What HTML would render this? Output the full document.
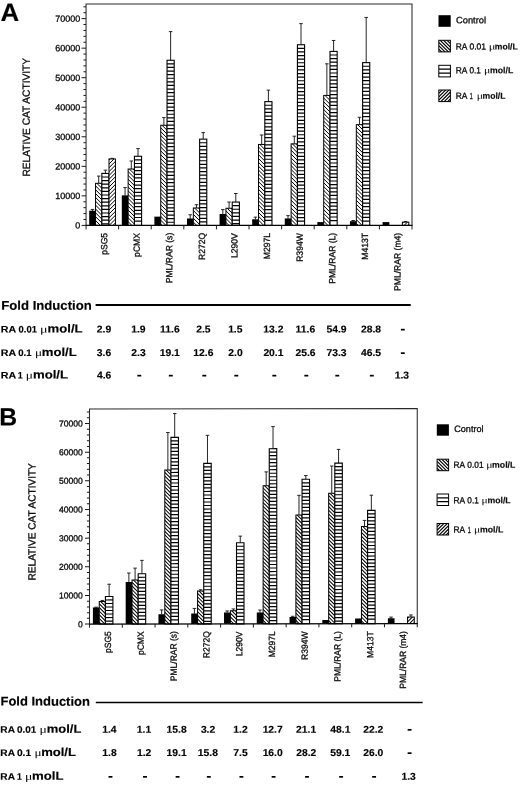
<!DOCTYPE html>
<html><head><meta charset="utf-8"><title>Figure</title>
<style>
html,body{margin:0;padding:0;background:#fff;}
body{width:520px;height:785px;overflow:hidden;font-family:"Liberation Sans",sans-serif;}
svg{display:block;will-change:transform;}
</style></head><body>
<svg width="520" height="785" viewBox="0 0 520 785">
<rect width="520" height="785" fill="#fff"/>
<g id="panelA">
<g transform="translate(86.05 0) skewY(0.000) translate(-86.05 0)">
<path d="M92.45 210.93V209.45M90.70 209.45H94.20" stroke="#1a1a1a" stroke-width="0.95" fill="none"/>
<rect x="89.20" y="210.73" width="6.80" height="14.67" fill="#000"/>
<path d="M98.70 183.31V176.07M96.95 176.07H100.45" stroke="#1a1a1a" stroke-width="0.95" fill="none"/>
<clipPath id="cA_0_1"><rect x="95.55" y="183.31" width="6.30" height="42.09"/></clipPath>
<rect x="95.55" y="183.31" width="6.30" height="42.09" fill="#fff"/>
<path d="M94.55 177.16L102.85 185.46M94.55 181.01L102.85 189.31M94.55 184.86L102.85 193.16M94.55 188.71L102.85 197.01M94.55 192.56L102.85 200.86M94.55 196.41L102.85 204.71M94.55 200.26L102.85 208.56M94.55 204.11L102.85 212.41M94.55 207.96L102.85 216.26M94.55 211.81L102.85 220.11M94.55 215.66L102.85 223.96M94.55 219.51L102.85 227.81M94.55 223.36L102.85 231.66" stroke="#000" stroke-width="1.0" fill="none" clip-path="url(#cA_0_1)"/>
<rect x="95.55" y="183.31" width="6.30" height="42.09" fill="none" stroke="#000" stroke-width="1"/>
<path d="M105.42 173.41V170.16M103.67 170.16H107.17" stroke="#1a1a1a" stroke-width="0.95" fill="none"/>
<rect x="101.85" y="173.41" width="7.15" height="51.99" fill="#fff" stroke="#000" stroke-width="1.1"/>
<path d="M101.85 177.01H109.00M101.85 180.61H109.00M101.85 184.21H109.00M101.85 187.81H109.00M101.85 191.41H109.00M101.85 195.01H109.00M101.85 198.61H109.00M101.85 202.21H109.00M101.85 205.81H109.00M101.85 209.41H109.00M101.85 213.01H109.00M101.85 216.61H109.00M101.85 220.21H109.00M101.85 223.81H109.00" stroke="#000" stroke-width="1.2" fill="none"/>
<path d="M112.22 158.94V158.34M110.47 158.34H113.97" stroke="#1a1a1a" stroke-width="0.95" fill="none"/>
<clipPath id="cA_0_3"><rect x="109.00" y="158.94" width="6.45" height="66.47"/></clipPath>
<rect x="109.00" y="158.94" width="6.45" height="66.47" fill="#fff"/>
<path d="M108.00 161.09L116.45 152.64M108.00 164.94L116.45 156.49M108.00 168.79L116.45 160.34M108.00 172.64L116.45 164.19M108.00 176.49L116.45 168.04M108.00 180.34L116.45 171.89M108.00 184.19L116.45 175.74M108.00 188.04L116.45 179.59M108.00 191.89L116.45 183.44M108.00 195.74L116.45 187.29M108.00 199.59L116.45 191.14M108.00 203.44L116.45 194.99M108.00 207.29L116.45 198.84M108.00 211.14L116.45 202.69M108.00 214.99L116.45 206.54M108.00 218.84L116.45 210.39M108.00 222.69L116.45 214.24M108.00 226.54L116.45 218.09M108.00 230.39L116.45 221.94" stroke="#000" stroke-width="1.0" fill="none" clip-path="url(#cA_0_3)"/>
<rect x="109.00" y="158.94" width="6.45" height="66.47" fill="none" stroke="#000" stroke-width="1"/>
<path d="M125.05 195.56V187.59M123.30 187.59H126.80" stroke="#1a1a1a" stroke-width="0.95" fill="none"/>
<rect x="121.80" y="195.36" width="6.80" height="30.04" fill="#000"/>
<path d="M131.29 169.04V161.00M129.54 161.00H133.04" stroke="#1a1a1a" stroke-width="0.95" fill="none"/>
<clipPath id="cA_1_1"><rect x="128.14" y="169.04" width="6.30" height="56.36"/></clipPath>
<rect x="128.14" y="169.04" width="6.30" height="56.36" fill="#fff"/>
<path d="M127.14 162.89L135.44 171.19M127.14 166.74L135.44 175.04M127.14 170.59L135.44 178.89M127.14 174.44L135.44 182.74M127.14 178.29L135.44 186.59M127.14 182.14L135.44 190.44M127.14 185.99L135.44 194.29M127.14 189.84L135.44 198.14M127.14 193.69L135.44 201.99M127.14 197.54L135.44 205.84M127.14 201.39L135.44 209.69M127.14 205.24L135.44 213.54M127.14 209.09L135.44 217.39M127.14 212.94L135.44 221.24M127.14 216.79L135.44 225.09M127.14 220.64L135.44 228.94" stroke="#000" stroke-width="1.0" fill="none" clip-path="url(#cA_1_1)"/>
<rect x="128.14" y="169.04" width="6.30" height="56.36" fill="none" stroke="#000" stroke-width="1"/>
<path d="M138.02 156.28V148.60M136.27 148.60H139.77" stroke="#1a1a1a" stroke-width="0.95" fill="none"/>
<rect x="134.44" y="156.28" width="7.15" height="69.12" fill="#fff" stroke="#000" stroke-width="1.1"/>
<path d="M134.44 159.88H141.59M134.44 163.48H141.59M134.44 167.08H141.59M134.44 170.68H141.59M134.44 174.28H141.59M134.44 177.88H141.59M134.44 181.48H141.59M134.44 185.08H141.59M134.44 188.68H141.59M134.44 192.28H141.59M134.44 195.88H141.59M134.44 199.48H141.59M134.44 203.08H141.59M134.44 206.68H141.59M134.44 210.28H141.59M134.44 213.88H141.59M134.44 217.48H141.59M134.44 221.08H141.59" stroke="#000" stroke-width="1.2" fill="none"/>
<rect x="154.39" y="216.63" width="6.80" height="8.77" fill="#000"/>
<path d="M163.89 125.26V117.58M162.14 117.58H165.64" stroke="#1a1a1a" stroke-width="0.95" fill="none"/>
<clipPath id="cA_2_1"><rect x="160.74" y="125.26" width="6.30" height="100.14"/></clipPath>
<rect x="160.74" y="125.26" width="6.30" height="100.14" fill="#fff"/>
<path d="M159.74 119.11L168.04 127.41M159.74 122.96L168.04 131.26M159.74 126.81L168.04 135.11M159.74 130.66L168.04 138.96M159.74 134.51L168.04 142.81M159.74 138.36L168.04 146.66M159.74 142.21L168.04 150.51M159.74 146.06L168.04 154.36M159.74 149.91L168.04 158.21M159.74 153.76L168.04 162.06M159.74 157.61L168.04 165.91M159.74 161.46L168.04 169.76M159.74 165.31L168.04 173.61M159.74 169.16L168.04 177.46M159.74 173.01L168.04 181.31M159.74 176.86L168.04 185.16M159.74 180.71L168.04 189.01M159.74 184.56L168.04 192.86M159.74 188.41L168.04 196.71M159.74 192.26L168.04 200.56M159.74 196.11L168.04 204.41M159.74 199.96L168.04 208.26M159.74 203.81L168.04 212.11M159.74 207.66L168.04 215.96M159.74 211.51L168.04 219.81M159.74 215.36L168.04 223.66M159.74 219.21L168.04 227.51M159.74 223.06L168.04 231.36" stroke="#000" stroke-width="1.0" fill="none" clip-path="url(#cA_2_1)"/>
<rect x="160.74" y="125.26" width="6.30" height="100.14" fill="none" stroke="#000" stroke-width="1"/>
<path d="M170.62 60.27V31.62M168.87 31.62H172.37" stroke="#1a1a1a" stroke-width="0.95" fill="none"/>
<rect x="167.04" y="60.27" width="7.15" height="165.13" fill="#fff" stroke="#000" stroke-width="1.1"/>
<path d="M167.04 63.87H174.19M167.04 67.47H174.19M167.04 71.07H174.19M167.04 74.67H174.19M167.04 78.27H174.19M167.04 81.87H174.19M167.04 85.47H174.19M167.04 89.07H174.19M167.04 92.67H174.19M167.04 96.27H174.19M167.04 99.87H174.19M167.04 103.47H174.19M167.04 107.07H174.19M167.04 110.67H174.19M167.04 114.27H174.19M167.04 117.87H174.19M167.04 121.47H174.19M167.04 125.07H174.19M167.04 128.67H174.19M167.04 132.27H174.19M167.04 135.87H174.19M167.04 139.47H174.19M167.04 143.07H174.19M167.04 146.67H174.19M167.04 150.27H174.19M167.04 153.87H174.19M167.04 157.47H174.19M167.04 161.07H174.19M167.04 164.67H174.19M167.04 168.27H174.19M167.04 171.87H174.19M167.04 175.47H174.19M167.04 179.07H174.19M167.04 182.67H174.19M167.04 186.27H174.19M167.04 189.87H174.19M167.04 193.47H174.19M167.04 197.07H174.19M167.04 200.67H174.19M167.04 204.27H174.19M167.04 207.87H174.19M167.04 211.47H174.19M167.04 215.07H174.19M167.04 218.67H174.19M167.04 222.27H174.19" stroke="#000" stroke-width="1.2" fill="none"/>
<path d="M190.23 218.69V214.77M188.48 214.77H191.98" stroke="#1a1a1a" stroke-width="0.95" fill="none"/>
<rect x="186.98" y="218.49" width="6.80" height="6.91" fill="#000"/>
<path d="M196.48 207.97V204.72M194.73 204.72H198.23" stroke="#1a1a1a" stroke-width="0.95" fill="none"/>
<clipPath id="cA_3_1"><rect x="193.33" y="207.97" width="6.30" height="17.43"/></clipPath>
<rect x="193.33" y="207.97" width="6.30" height="17.43" fill="#fff"/>
<path d="M192.33 201.83L200.63 210.13M192.33 205.68L200.63 213.98M192.33 209.53L200.63 217.83M192.33 213.38L200.63 221.68M192.33 217.23L200.63 225.53M192.33 221.08L200.63 229.38" stroke="#000" stroke-width="1.0" fill="none" clip-path="url(#cA_3_1)"/>
<rect x="193.33" y="207.97" width="6.30" height="17.43" fill="none" stroke="#000" stroke-width="1"/>
<path d="M203.21 139.14V132.64M201.46 132.64H204.96" stroke="#1a1a1a" stroke-width="0.95" fill="none"/>
<rect x="199.63" y="139.14" width="7.15" height="86.26" fill="#fff" stroke="#000" stroke-width="1.1"/>
<path d="M199.63 142.74H206.78M199.63 146.34H206.78M199.63 149.94H206.78M199.63 153.54H206.78M199.63 157.14H206.78M199.63 160.74H206.78M199.63 164.34H206.78M199.63 167.94H206.78M199.63 171.54H206.78M199.63 175.14H206.78M199.63 178.74H206.78M199.63 182.34H206.78M199.63 185.94H206.78M199.63 189.54H206.78M199.63 193.14H206.78M199.63 196.74H206.78M199.63 200.34H206.78M199.63 203.94H206.78M199.63 207.54H206.78M199.63 211.14H206.78M199.63 214.74H206.78M199.63 218.34H206.78M199.63 221.94H206.78" stroke="#000" stroke-width="1.2" fill="none"/>
<path d="M222.83 214.17V209.60M221.08 209.60H224.58" stroke="#1a1a1a" stroke-width="0.95" fill="none"/>
<rect x="219.58" y="213.97" width="6.80" height="11.43" fill="#000"/>
<path d="M229.08 208.27V202.06M227.33 202.06H230.83" stroke="#1a1a1a" stroke-width="0.95" fill="none"/>
<clipPath id="cA_4_1"><rect x="225.93" y="208.27" width="6.30" height="17.13"/></clipPath>
<rect x="225.93" y="208.27" width="6.30" height="17.13" fill="#fff"/>
<path d="M224.93 202.12L233.23 210.42M224.93 205.97L233.23 214.27M224.93 209.82L233.23 218.12M224.93 213.67L233.23 221.97M224.93 217.52L233.23 225.82M224.93 221.37L233.23 229.67" stroke="#000" stroke-width="1.0" fill="none" clip-path="url(#cA_4_1)"/>
<rect x="225.93" y="208.27" width="6.30" height="17.13" fill="none" stroke="#000" stroke-width="1"/>
<path d="M235.81 202.06V193.50M234.06 193.50H237.56" stroke="#1a1a1a" stroke-width="0.95" fill="none"/>
<rect x="232.23" y="202.06" width="7.15" height="23.34" fill="#fff" stroke="#000" stroke-width="1.1"/>
<path d="M232.23 205.66H239.38M232.23 209.26H239.38M232.23 212.86H239.38M232.23 216.46H239.38M232.23 220.06H239.38M232.23 223.66H239.38" stroke="#000" stroke-width="1.2" fill="none"/>
<path d="M255.42 219.49V217.13M253.67 217.13H257.17" stroke="#1a1a1a" stroke-width="0.95" fill="none"/>
<rect x="252.17" y="219.29" width="6.80" height="6.11" fill="#000"/>
<path d="M261.67 144.46V135.01M259.92 135.01H263.42" stroke="#1a1a1a" stroke-width="0.95" fill="none"/>
<clipPath id="cA_5_1"><rect x="258.52" y="144.46" width="6.30" height="80.94"/></clipPath>
<rect x="258.52" y="144.46" width="6.30" height="80.94" fill="#fff"/>
<path d="M257.52 138.32L265.82 146.62M257.52 142.17L265.82 150.47M257.52 146.02L265.82 154.32M257.52 149.87L265.82 158.17M257.52 153.72L265.82 162.02M257.52 157.57L265.82 165.87M257.52 161.42L265.82 169.72M257.52 165.27L265.82 173.57M257.52 169.12L265.82 177.42M257.52 172.97L265.82 181.27M257.52 176.82L265.82 185.12M257.52 180.67L265.82 188.97M257.52 184.52L265.82 192.82M257.52 188.37L265.82 196.67M257.52 192.22L265.82 200.52M257.52 196.07L265.82 204.37M257.52 199.92L265.82 208.22M257.52 203.77L265.82 212.07M257.52 207.62L265.82 215.92M257.52 211.47L265.82 219.77M257.52 215.32L265.82 223.62M257.52 219.17L265.82 227.47M257.52 223.02L265.82 231.32" stroke="#000" stroke-width="1.0" fill="none" clip-path="url(#cA_5_1)"/>
<rect x="258.52" y="144.46" width="6.30" height="80.94" fill="none" stroke="#000" stroke-width="1"/>
<path d="M268.40 101.63V90.11M266.65 90.11H270.15" stroke="#1a1a1a" stroke-width="0.95" fill="none"/>
<rect x="264.82" y="101.63" width="7.15" height="123.77" fill="#fff" stroke="#000" stroke-width="1.1"/>
<path d="M264.82 105.23H271.97M264.82 108.83H271.97M264.82 112.43H271.97M264.82 116.03H271.97M264.82 119.63H271.97M264.82 123.23H271.97M264.82 126.83H271.97M264.82 130.43H271.97M264.82 134.03H271.97M264.82 137.63H271.97M264.82 141.23H271.97M264.82 144.83H271.97M264.82 148.43H271.97M264.82 152.03H271.97M264.82 155.63H271.97M264.82 159.23H271.97M264.82 162.83H271.97M264.82 166.43H271.97M264.82 170.03H271.97M264.82 173.63H271.97M264.82 177.23H271.97M264.82 180.83H271.97M264.82 184.43H271.97M264.82 188.03H271.97M264.82 191.63H271.97M264.82 195.23H271.97M264.82 198.83H271.97M264.82 202.43H271.97M264.82 206.03H271.97M264.82 209.63H271.97M264.82 213.23H271.97M264.82 216.83H271.97M264.82 220.43H271.97" stroke="#000" stroke-width="1.2" fill="none"/>
<path d="M288.02 218.61V215.65M286.27 215.65H289.77" stroke="#1a1a1a" stroke-width="0.95" fill="none"/>
<rect x="284.77" y="218.41" width="6.80" height="6.99" fill="#000"/>
<path d="M294.27 143.87V136.19M292.52 136.19H296.02" stroke="#1a1a1a" stroke-width="0.95" fill="none"/>
<clipPath id="cA_6_1"><rect x="291.12" y="143.87" width="6.30" height="81.53"/></clipPath>
<rect x="291.12" y="143.87" width="6.30" height="81.53" fill="#fff"/>
<path d="M290.12 137.72L298.42 146.02M290.12 141.57L298.42 149.87M290.12 145.42L298.42 153.72M290.12 149.27L298.42 157.57M290.12 153.12L298.42 161.42M290.12 156.97L298.42 165.27M290.12 160.82L298.42 169.12M290.12 164.67L298.42 172.97M290.12 168.52L298.42 176.82M290.12 172.37L298.42 180.67M290.12 176.22L298.42 184.52M290.12 180.07L298.42 188.37M290.12 183.92L298.42 192.22M290.12 187.77L298.42 196.07M290.12 191.62L298.42 199.92M290.12 195.47L298.42 203.77M290.12 199.32L298.42 207.62M290.12 203.17L298.42 211.47M290.12 207.02L298.42 215.32M290.12 210.87L298.42 219.17M290.12 214.72L298.42 223.02M290.12 218.57L298.42 226.87M290.12 222.42L298.42 230.72" stroke="#000" stroke-width="1.0" fill="none" clip-path="url(#cA_6_1)"/>
<rect x="291.12" y="143.87" width="6.30" height="81.53" fill="none" stroke="#000" stroke-width="1"/>
<path d="M301.00 44.76V23.64M299.25 23.64H302.75" stroke="#1a1a1a" stroke-width="0.95" fill="none"/>
<rect x="297.42" y="44.76" width="7.15" height="180.64" fill="#fff" stroke="#000" stroke-width="1.1"/>
<path d="M297.42 48.36H304.57M297.42 51.96H304.57M297.42 55.56H304.57M297.42 59.16H304.57M297.42 62.76H304.57M297.42 66.36H304.57M297.42 69.96H304.57M297.42 73.56H304.57M297.42 77.16H304.57M297.42 80.76H304.57M297.42 84.36H304.57M297.42 87.96H304.57M297.42 91.56H304.57M297.42 95.16H304.57M297.42 98.76H304.57M297.42 102.36H304.57M297.42 105.96H304.57M297.42 109.56H304.57M297.42 113.16H304.57M297.42 116.76H304.57M297.42 120.36H304.57M297.42 123.96H304.57M297.42 127.56H304.57M297.42 131.16H304.57M297.42 134.76H304.57M297.42 138.36H304.57M297.42 141.96H304.57M297.42 145.56H304.57M297.42 149.16H304.57M297.42 152.76H304.57M297.42 156.36H304.57M297.42 159.96H304.57M297.42 163.56H304.57M297.42 167.16H304.57M297.42 170.76H304.57M297.42 174.36H304.57M297.42 177.96H304.57M297.42 181.56H304.57M297.42 185.16H304.57M297.42 188.76H304.57M297.42 192.36H304.57M297.42 195.96H304.57M297.42 199.56H304.57M297.42 203.16H304.57M297.42 206.76H304.57M297.42 210.36H304.57M297.42 213.96H304.57M297.42 217.56H304.57M297.42 221.16H304.57" stroke="#000" stroke-width="1.2" fill="none"/>
<rect x="317.36" y="222.10" width="6.80" height="3.30" fill="#000"/>
<path d="M326.86 95.42V63.82M325.11 63.82H328.61" stroke="#1a1a1a" stroke-width="0.95" fill="none"/>
<clipPath id="cA_7_1"><rect x="323.71" y="95.42" width="6.30" height="129.98"/></clipPath>
<rect x="323.71" y="95.42" width="6.30" height="129.98" fill="#fff"/>
<path d="M322.71 89.28L331.01 97.58M322.71 93.13L331.01 101.43M322.71 96.98L331.01 105.28M322.71 100.83L331.01 109.13M322.71 104.68L331.01 112.98M322.71 108.53L331.01 116.83M322.71 112.38L331.01 120.68M322.71 116.23L331.01 124.53M322.71 120.08L331.01 128.38M322.71 123.93L331.01 132.23M322.71 127.78L331.01 136.08M322.71 131.63L331.01 139.93M322.71 135.48L331.01 143.78M322.71 139.33L331.01 147.63M322.71 143.18L331.01 151.48M322.71 147.03L331.01 155.33M322.71 150.88L331.01 159.18M322.71 154.73L331.01 163.03M322.71 158.58L331.01 166.88M322.71 162.43L331.01 170.73M322.71 166.28L331.01 174.58M322.71 170.13L331.01 178.43M322.71 173.98L331.01 182.28M322.71 177.83L331.01 186.13M322.71 181.68L331.01 189.98M322.71 185.53L331.01 193.83M322.71 189.38L331.01 197.68M322.71 193.23L331.01 201.53M322.71 197.08L331.01 205.38M322.71 200.93L331.01 209.23M322.71 204.78L331.01 213.08M322.71 208.63L331.01 216.93M322.71 212.48L331.01 220.78M322.71 216.33L331.01 224.63M322.71 220.18L331.01 228.48M322.71 224.03L331.01 232.33" stroke="#000" stroke-width="1.0" fill="none" clip-path="url(#cA_7_1)"/>
<rect x="323.71" y="95.42" width="6.30" height="129.98" fill="none" stroke="#000" stroke-width="1"/>
<path d="M333.59 51.41V40.48M331.84 40.48H335.34" stroke="#1a1a1a" stroke-width="0.95" fill="none"/>
<rect x="330.01" y="51.41" width="7.15" height="173.99" fill="#fff" stroke="#000" stroke-width="1.1"/>
<path d="M330.01 55.01H337.16M330.01 58.61H337.16M330.01 62.21H337.16M330.01 65.81H337.16M330.01 69.41H337.16M330.01 73.01H337.16M330.01 76.61H337.16M330.01 80.21H337.16M330.01 83.81H337.16M330.01 87.41H337.16M330.01 91.01H337.16M330.01 94.61H337.16M330.01 98.21H337.16M330.01 101.81H337.16M330.01 105.41H337.16M330.01 109.01H337.16M330.01 112.61H337.16M330.01 116.21H337.16M330.01 119.81H337.16M330.01 123.41H337.16M330.01 127.01H337.16M330.01 130.61H337.16M330.01 134.21H337.16M330.01 137.81H337.16M330.01 141.41H337.16M330.01 145.01H337.16M330.01 148.61H337.16M330.01 152.21H337.16M330.01 155.81H337.16M330.01 159.41H337.16M330.01 163.01H337.16M330.01 166.61H337.16M330.01 170.21H337.16M330.01 173.81H337.16M330.01 177.41H337.16M330.01 181.01H337.16M330.01 184.61H337.16M330.01 188.21H337.16M330.01 191.81H337.16M330.01 195.41H337.16M330.01 199.01H337.16M330.01 202.61H337.16M330.01 206.21H337.16M330.01 209.81H337.16M330.01 213.41H337.16M330.01 217.01H337.16M330.01 220.61H337.16" stroke="#000" stroke-width="1.2" fill="none"/>
<path d="M353.21 221.41V220.53M351.46 220.53H354.96" stroke="#1a1a1a" stroke-width="0.95" fill="none"/>
<rect x="349.96" y="221.21" width="6.80" height="4.19" fill="#000"/>
<path d="M359.46 124.67V117.28M357.71 117.28H361.21" stroke="#1a1a1a" stroke-width="0.95" fill="none"/>
<clipPath id="cA_8_1"><rect x="356.31" y="124.67" width="6.30" height="100.73"/></clipPath>
<rect x="356.31" y="124.67" width="6.30" height="100.73" fill="#fff"/>
<path d="M355.31 118.52L363.61 126.82M355.31 122.37L363.61 130.67M355.31 126.22L363.61 134.52M355.31 130.07L363.61 138.37M355.31 133.92L363.61 142.22M355.31 137.77L363.61 146.07M355.31 141.62L363.61 149.92M355.31 145.47L363.61 153.77M355.31 149.32L363.61 157.62M355.31 153.17L363.61 161.47M355.31 157.02L363.61 165.32M355.31 160.87L363.61 169.17M355.31 164.72L363.61 173.02M355.31 168.57L363.61 176.87M355.31 172.42L363.61 180.72M355.31 176.27L363.61 184.57M355.31 180.12L363.61 188.42M355.31 183.97L363.61 192.27M355.31 187.82L363.61 196.12M355.31 191.67L363.61 199.97M355.31 195.52L363.61 203.82M355.31 199.37L363.61 207.67M355.31 203.22L363.61 211.52M355.31 207.07L363.61 215.37M355.31 210.92L363.61 219.22M355.31 214.77L363.61 223.07M355.31 218.62L363.61 226.92M355.31 222.47L363.61 230.77" stroke="#000" stroke-width="1.0" fill="none" clip-path="url(#cA_8_1)"/>
<rect x="356.31" y="124.67" width="6.30" height="100.73" fill="none" stroke="#000" stroke-width="1"/>
<path d="M366.19 62.63V17.44M364.44 17.44H367.94" stroke="#1a1a1a" stroke-width="0.95" fill="none"/>
<rect x="362.61" y="62.63" width="7.15" height="162.77" fill="#fff" stroke="#000" stroke-width="1.1"/>
<path d="M362.61 66.23H369.76M362.61 69.83H369.76M362.61 73.43H369.76M362.61 77.03H369.76M362.61 80.63H369.76M362.61 84.23H369.76M362.61 87.83H369.76M362.61 91.43H369.76M362.61 95.03H369.76M362.61 98.63H369.76M362.61 102.23H369.76M362.61 105.83H369.76M362.61 109.43H369.76M362.61 113.03H369.76M362.61 116.63H369.76M362.61 120.23H369.76M362.61 123.83H369.76M362.61 127.43H369.76M362.61 131.03H369.76M362.61 134.63H369.76M362.61 138.23H369.76M362.61 141.83H369.76M362.61 145.43H369.76M362.61 149.03H369.76M362.61 152.63H369.76M362.61 156.23H369.76M362.61 159.83H369.76M362.61 163.43H369.76M362.61 167.03H369.76M362.61 170.63H369.76M362.61 174.23H369.76M362.61 177.83H369.76M362.61 181.43H369.76M362.61 185.03H369.76M362.61 188.63H369.76M362.61 192.23H369.76M362.61 195.83H369.76M362.61 199.43H369.76M362.61 203.03H369.76M362.61 206.63H369.76M362.61 210.23H369.76M362.61 213.83H369.76M362.61 217.43H369.76M362.61 221.03H369.76" stroke="#000" stroke-width="1.2" fill="none"/>
<rect x="382.56" y="222.10" width="6.80" height="3.30" fill="#000"/>
<path d="M405.58 222.15V221.56M403.83 221.56H407.33" stroke="#1a1a1a" stroke-width="0.95" fill="none"/>
<clipPath id="cA_9_3"><rect x="402.36" y="222.15" width="6.45" height="3.25"/></clipPath>
<rect x="402.36" y="222.15" width="6.45" height="3.25" fill="#fff"/>
<path d="M401.36 224.31L409.81 215.86M401.36 228.16L409.81 219.71M401.36 232.01L409.81 223.56" stroke="#000" stroke-width="1.0" fill="none" clip-path="url(#cA_9_3)"/>
<rect x="402.36" y="222.15" width="6.45" height="3.25" fill="none" stroke="#000" stroke-width="1"/>
<path d="M86.05 229.40V3.90H412.00V229.40" stroke="#2a2a2a" stroke-width="1.05" fill="none"/>
<path d="M85.55 225.40H412.50" stroke="#000" stroke-width="1.3" fill="none"/>
<path d="M118.64 225.40v4.00M151.24 225.40v4.00M183.83 225.40v4.00M216.43 225.40v4.00M249.02 225.40v4.00M281.62 225.40v4.00M314.21 225.40v4.00M346.81 225.40v4.00M379.41 225.40v4.00" stroke="#1a1a1a" stroke-width="1" fill="none"/>
<path d="M86.05 225.40h-4.50M86.05 219.49h-2.61M86.05 213.58h-2.61M86.05 207.68h-2.61M86.05 201.77h-2.61M86.05 195.86h-4.50M86.05 189.95h-2.61M86.05 184.04h-2.61M86.05 178.14h-2.61M86.05 172.23h-2.61M86.05 166.32h-4.50M86.05 160.41h-2.61M86.05 154.50h-2.61M86.05 148.60h-2.61M86.05 142.69h-2.61M86.05 136.78h-4.50M86.05 130.87h-2.61M86.05 124.96h-2.61M86.05 119.06h-2.61M86.05 113.15h-2.61M86.05 107.24h-4.50M86.05 101.33h-2.61M86.05 95.42h-2.61M86.05 89.52h-2.61M86.05 83.61h-2.61M86.05 77.70h-4.50M86.05 71.79h-2.61M86.05 65.88h-2.61M86.05 59.98h-2.61M86.05 54.07h-2.61M86.05 48.16h-4.50M86.05 42.25h-2.61M86.05 36.34h-2.61M86.05 30.44h-2.61M86.05 24.53h-2.61M86.05 18.62h-4.50M86.05 12.71h-2.61M86.05 6.80h-2.61" stroke="#1a1a1a" stroke-width="1" fill="none"/>
</g>
<text transform="translate(75.32 228.59) rotate(0.03) scale(1.0000 1)" font-family="Liberation Sans, sans-serif" font-weight="normal" font-size="9.00" fill="#0a0a0a" stroke="#0a0a0a" stroke-width="0.30">0</text>
<text transform="translate(55.30 199.06) rotate(0.03) scale(1.0000 1)" font-family="Liberation Sans, sans-serif" font-weight="normal" font-size="9.00" fill="#0a0a0a" stroke="#0a0a0a" stroke-width="0.30">10000</text>
<text transform="translate(55.29 169.51) rotate(0.03) scale(1.0000 1)" font-family="Liberation Sans, sans-serif" font-weight="normal" font-size="9.00" fill="#0a0a0a" stroke="#0a0a0a" stroke-width="0.30">20000</text>
<text transform="translate(55.30 139.97) rotate(0.03) scale(1.0000 1)" font-family="Liberation Sans, sans-serif" font-weight="normal" font-size="9.00" fill="#0a0a0a" stroke="#0a0a0a" stroke-width="0.30">30000</text>
<text transform="translate(55.29 110.44) rotate(0.03) scale(1.0000 1)" font-family="Liberation Sans, sans-serif" font-weight="normal" font-size="9.00" fill="#0a0a0a" stroke="#0a0a0a" stroke-width="0.30">40000</text>
<text transform="translate(55.30 80.90) rotate(0.03) scale(1.0000 1)" font-family="Liberation Sans, sans-serif" font-weight="normal" font-size="9.00" fill="#0a0a0a" stroke="#0a0a0a" stroke-width="0.30">50000</text>
<text transform="translate(55.29 51.35) rotate(0.03) scale(1.0000 1)" font-family="Liberation Sans, sans-serif" font-weight="normal" font-size="9.00" fill="#0a0a0a" stroke="#0a0a0a" stroke-width="0.30">60000</text>
<text transform="translate(55.29 21.82) rotate(0.03) scale(1.0000 1)" font-family="Liberation Sans, sans-serif" font-weight="normal" font-size="9.00" fill="#0a0a0a" stroke="#0a0a0a" stroke-width="0.30">70000</text>
<text transform="translate(29.90 176.61) rotate(-90.03) scale(0.9790 1)" font-family="Liberation Sans, sans-serif" font-weight="normal" font-size="10.40" fill="#0a0a0a" stroke="#0a0a0a" stroke-width="0.30">RELATIVE CAT ACTIVITY</text>
<text transform="translate(107.15 254.82) rotate(-90.03) scale(0.9550 1)" font-family="Liberation Sans, sans-serif" font-weight="normal" font-size="9.00" fill="#0a0a0a" stroke="#0a0a0a" stroke-width="0.30">pSG5</text>
<text transform="translate(139.74 256.88) rotate(-90.03) scale(0.9550 1)" font-family="Liberation Sans, sans-serif" font-weight="normal" font-size="9.00" fill="#0a0a0a" stroke="#0a0a0a" stroke-width="0.30">pCMX</text>
<text transform="translate(172.34 283.27) rotate(-90.03) scale(0.9550 1)" font-family="Liberation Sans, sans-serif" font-weight="normal" font-size="9.00" fill="#0a0a0a" stroke="#0a0a0a" stroke-width="0.30">PML/RAR (s)</text>
<text transform="translate(204.93 260.02) rotate(-90.03) scale(0.9550 1)" font-family="Liberation Sans, sans-serif" font-weight="normal" font-size="9.00" fill="#0a0a0a" stroke="#0a0a0a" stroke-width="0.30">R272Q</text>
<text transform="translate(237.53 258.00) rotate(-90.03) scale(0.9550 1)" font-family="Liberation Sans, sans-serif" font-weight="normal" font-size="9.00" fill="#0a0a0a" stroke="#0a0a0a" stroke-width="0.30">L290V</text>
<text transform="translate(270.12 259.20) rotate(-90.03) scale(0.9550 1)" font-family="Liberation Sans, sans-serif" font-weight="normal" font-size="9.00" fill="#0a0a0a" stroke="#0a0a0a" stroke-width="0.30">M297L</text>
<text transform="translate(302.72 261.82) rotate(-90.03) scale(0.9550 1)" font-family="Liberation Sans, sans-serif" font-weight="normal" font-size="9.00" fill="#0a0a0a" stroke="#0a0a0a" stroke-width="0.30">R394W</text>
<text transform="translate(335.31 283.78) rotate(-90.03) scale(0.9550 1)" font-family="Liberation Sans, sans-serif" font-weight="normal" font-size="9.00" fill="#0a0a0a" stroke="#0a0a0a" stroke-width="0.30">PML/RAR (L)</text>
<text transform="translate(367.91 259.76) rotate(-90.03) scale(0.9550 1)" font-family="Liberation Sans, sans-serif" font-weight="normal" font-size="9.00" fill="#0a0a0a" stroke="#0a0a0a" stroke-width="0.30">M413T</text>
<text transform="translate(400.50 290.92) rotate(-90.03) scale(0.9550 1)" font-family="Liberation Sans, sans-serif" font-weight="normal" font-size="9.00" fill="#0a0a0a" stroke="#0a0a0a" stroke-width="0.30">PML/RAR (m4)</text>
<text transform="translate(0.50 20.90) rotate(0.03) scale(1.0358 1)" font-family="Liberation Sans, sans-serif" font-weight="bold" font-size="25.00" fill="#000" stroke="#000" stroke-width="0.15">A</text>
<rect x="438.50" y="15.20" width="12.20" height="11.60" fill="#000"/>
<text transform="translate(456.03 23.20) rotate(0.03) scale(1.0117 1)" font-family="Liberation Sans, sans-serif" font-weight="normal" font-size="9.20" fill="#0a0a0a" stroke="#0a0a0a" stroke-width="0.30">Control</text>
<clipPath id="lcA1"><rect x="438.80" y="40.30" width="11.60" height="11.60"/></clipPath>
<path d="M438.80 28.70L450.40 40.30M438.80 32.10L450.40 43.70M438.80 35.50L450.40 47.10M438.80 38.90L450.40 50.50M438.80 42.30L450.40 53.90M438.80 45.70L450.40 57.30M438.80 49.10L450.40 60.70M438.80 52.50L450.40 64.10" stroke="#000" stroke-width="1.15" fill="none" clip-path="url(#lcA1)"/>
<rect x="438.80" y="40.30" width="11.60" height="11.60" fill="none" stroke="#000" stroke-width="1"/>
<text transform="translate(455.63 49.50) rotate(0.03) scale(0.9491 1)" font-family="Liberation Sans, sans-serif" font-weight="normal" font-size="8.80" fill="#0a0a0a" stroke="#0a0a0a" stroke-width="0.30">RA</text>
<text transform="translate(469.46 49.50) rotate(0.03) scale(0.9714 1)" font-family="Liberation Sans, sans-serif" font-weight="normal" font-size="8.80" fill="#0a0a0a" stroke="#0a0a0a" stroke-width="0.30">0.01</text>
<text transform="translate(488.70 49.50) rotate(0.03) scale(1.3190 1)" font-family="Liberation Serif, serif" font-weight="normal" font-size="9.50" fill="#0a0a0a">μ</text>
<text transform="translate(494.84 49.50) rotate(0.03) scale(0.9728 1)" font-family="Liberation Sans, sans-serif" font-weight="bold" font-size="8.80" fill="#0a0a0a" stroke="#0a0a0a" stroke-width="0.15">mol/L</text>
<clipPath id="lcA2"><rect x="438.80" y="65.30" width="11.60" height="11.60"/></clipPath>
<path d="M438.80 69.17H450.40M438.80 73.03H450.40" stroke="#000" stroke-width="1.20" fill="none" clip-path="url(#lcA2)"/>
<rect x="438.80" y="65.30" width="11.60" height="11.60" fill="none" stroke="#000" stroke-width="1"/>
<text transform="translate(455.63 73.30) rotate(0.03) scale(0.9491 1)" font-family="Liberation Sans, sans-serif" font-weight="normal" font-size="8.80" fill="#0a0a0a" stroke="#0a0a0a" stroke-width="0.30">RA</text>
<text transform="translate(469.47 73.30) rotate(0.03) scale(0.9317 1)" font-family="Liberation Sans, sans-serif" font-weight="normal" font-size="8.80" fill="#0a0a0a" stroke="#0a0a0a" stroke-width="0.30">0.1</text>
<text transform="translate(484.06 73.30) rotate(0.03) scale(1.2429 1)" font-family="Liberation Serif, serif" font-weight="normal" font-size="9.50" fill="#0a0a0a">μ</text>
<text transform="translate(490.03 73.30) rotate(0.03) scale(0.9904 1)" font-family="Liberation Sans, sans-serif" font-weight="bold" font-size="8.80" fill="#0a0a0a" stroke="#0a0a0a" stroke-width="0.15">mol/L</text>
<clipPath id="lcA3"><rect x="438.80" y="90.00" width="11.60" height="11.60"/></clipPath>
<path d="M438.80 90.00L450.40 78.40M438.80 93.40L450.40 81.80M438.80 96.80L450.40 85.20M438.80 100.20L450.40 88.60M438.80 103.60L450.40 92.00M438.80 107.00L450.40 95.40M438.80 110.40L450.40 98.80M438.80 113.80L450.40 102.20" stroke="#000" stroke-width="1.15" fill="none" clip-path="url(#lcA3)"/>
<rect x="438.80" y="90.00" width="11.60" height="11.60" fill="none" stroke="#000" stroke-width="1"/>
<text transform="translate(455.63 98.70) rotate(0.03) scale(0.9491 1)" font-family="Liberation Sans, sans-serif" font-weight="normal" font-size="8.80" fill="#0a0a0a" stroke="#0a0a0a" stroke-width="0.30">RA</text>
<text transform="translate(469.70 98.70) rotate(0.03) scale(0.6008 1)" font-family="Liberation Sans, sans-serif" font-weight="normal" font-size="8.80" fill="#0a0a0a" stroke="#0a0a0a" stroke-width="0.30">1</text>
<text transform="translate(476.66 98.70) rotate(0.03) scale(1.2429 1)" font-family="Liberation Serif, serif" font-weight="normal" font-size="9.50" fill="#0a0a0a">μ</text>
<text transform="translate(482.54 98.70) rotate(0.03) scale(0.9816 1)" font-family="Liberation Sans, sans-serif" font-weight="bold" font-size="8.80" fill="#0a0a0a" stroke="#0a0a0a" stroke-width="0.15">mol/L</text>
<text transform="translate(1.25 309.80) rotate(0.03) scale(1.0274 1)" font-family="Liberation Sans, sans-serif" font-weight="bold" font-size="12.80" fill="#000" stroke="#000" stroke-width="0.15">Fold Induction</text>
<path d="M95.60 305.00H410.70" stroke="#000" stroke-width="1.90"/>
<text transform="translate(0.81 332.50) rotate(0.03) scale(1.1228 1)" font-family="Liberation Sans, sans-serif" font-weight="bold" font-size="9.50" fill="#000" stroke="#000" stroke-width="0.15">RA</text>
<text transform="translate(18.62 332.50) rotate(0.03) scale(0.9910 1)" font-family="Liberation Sans, sans-serif" font-weight="bold" font-size="9.50" fill="#000" stroke="#000" stroke-width="0.15">0.01</text>
<text transform="translate(40.06 332.50) rotate(0.03) scale(1.3540 1)" font-family="Liberation Serif, serif" font-weight="normal" font-size="10.50" fill="#000">μ</text>
<text transform="translate(47.55 332.50) rotate(0.03) scale(1.1241 1)" font-family="Liberation Sans, sans-serif" font-weight="bold" font-size="11.70" fill="#000" stroke="#000" stroke-width="0.15">mol/L</text>
<text transform="translate(96.81 332.50) rotate(0.03) scale(1.0350 1)" font-family="Liberation Sans, sans-serif" font-weight="bold" font-size="10.00" fill="#000" stroke="#000" stroke-width="0.15">2.9</text>
<text transform="translate(131.18 332.50) rotate(0.03) scale(1.0350 1)" font-family="Liberation Sans, sans-serif" font-weight="bold" font-size="10.00" fill="#000" stroke="#000" stroke-width="0.15">1.9</text>
<text transform="translate(160.09 332.50) rotate(0.03) scale(1.0350 1)" font-family="Liberation Sans, sans-serif" font-weight="bold" font-size="10.00" fill="#000" stroke="#000" stroke-width="0.15">11.6</text>
<text transform="translate(196.26 332.50) rotate(0.03) scale(1.0350 1)" font-family="Liberation Sans, sans-serif" font-weight="bold" font-size="10.00" fill="#000" stroke="#000" stroke-width="0.15">2.5</text>
<text transform="translate(228.13 332.50) rotate(0.03) scale(1.0350 1)" font-family="Liberation Sans, sans-serif" font-weight="bold" font-size="10.00" fill="#000" stroke="#000" stroke-width="0.15">1.5</text>
<text transform="translate(263.33 332.50) rotate(0.03) scale(1.0350 1)" font-family="Liberation Sans, sans-serif" font-weight="bold" font-size="10.00" fill="#000" stroke="#000" stroke-width="0.15">13.2</text>
<text transform="translate(295.59 332.50) rotate(0.03) scale(1.0350 1)" font-family="Liberation Sans, sans-serif" font-weight="bold" font-size="10.00" fill="#000" stroke="#000" stroke-width="0.15">11.6</text>
<text transform="translate(326.46 332.50) rotate(0.03) scale(1.0350 1)" font-family="Liberation Sans, sans-serif" font-weight="bold" font-size="10.00" fill="#000" stroke="#000" stroke-width="0.15">54.9</text>
<text transform="translate(360.91 332.50) rotate(0.03) scale(1.0350 1)" font-family="Liberation Sans, sans-serif" font-weight="bold" font-size="10.00" fill="#000" stroke="#000" stroke-width="0.15">28.8</text>
<rect x="400.85" y="328.80" width="3.9" height="1.7" fill="#000"/>
<text transform="translate(0.81 356.00) rotate(0.03) scale(1.1228 1)" font-family="Liberation Sans, sans-serif" font-weight="bold" font-size="9.50" fill="#000" stroke="#000" stroke-width="0.15">RA</text>
<text transform="translate(18.22 356.00) rotate(0.03) scale(1.0089 1)" font-family="Liberation Sans, sans-serif" font-weight="bold" font-size="9.50" fill="#000" stroke="#000" stroke-width="0.15">0.1</text>
<text transform="translate(34.94 356.00) rotate(0.03) scale(1.2622 1)" font-family="Liberation Serif, serif" font-weight="normal" font-size="10.50" fill="#000">μ</text>
<text transform="translate(41.85 356.00) rotate(0.03) scale(1.1208 1)" font-family="Liberation Sans, sans-serif" font-weight="bold" font-size="11.70" fill="#000" stroke="#000" stroke-width="0.15">mol/L</text>
<text transform="translate(96.86 356.00) rotate(0.03) scale(1.0350 1)" font-family="Liberation Sans, sans-serif" font-weight="bold" font-size="10.00" fill="#000" stroke="#000" stroke-width="0.15">3.6</text>
<text transform="translate(131.31 356.00) rotate(0.03) scale(1.0350 1)" font-family="Liberation Sans, sans-serif" font-weight="bold" font-size="10.00" fill="#000" stroke="#000" stroke-width="0.15">2.3</text>
<text transform="translate(159.75 356.00) rotate(0.03) scale(1.0350 1)" font-family="Liberation Sans, sans-serif" font-weight="bold" font-size="10.00" fill="#000" stroke="#000" stroke-width="0.15">19.1</text>
<text transform="translate(193.31 356.00) rotate(0.03) scale(1.0350 1)" font-family="Liberation Sans, sans-serif" font-weight="bold" font-size="10.00" fill="#000" stroke="#000" stroke-width="0.15">12.6</text>
<text transform="translate(228.33 356.00) rotate(0.03) scale(1.0350 1)" font-family="Liberation Sans, sans-serif" font-weight="bold" font-size="10.00" fill="#000" stroke="#000" stroke-width="0.15">2.0</text>
<text transform="translate(263.38 356.00) rotate(0.03) scale(1.0350 1)" font-family="Liberation Sans, sans-serif" font-weight="bold" font-size="10.00" fill="#000" stroke="#000" stroke-width="0.15">20.1</text>
<text transform="translate(295.43 356.00) rotate(0.03) scale(1.0350 1)" font-family="Liberation Sans, sans-serif" font-weight="bold" font-size="10.00" fill="#000" stroke="#000" stroke-width="0.15">25.6</text>
<text transform="translate(326.41 356.00) rotate(0.03) scale(1.0350 1)" font-family="Liberation Sans, sans-serif" font-weight="bold" font-size="10.00" fill="#000" stroke="#000" stroke-width="0.15">73.3</text>
<text transform="translate(360.99 356.00) rotate(0.03) scale(1.0350 1)" font-family="Liberation Sans, sans-serif" font-weight="bold" font-size="10.00" fill="#000" stroke="#000" stroke-width="0.15">46.5</text>
<rect x="400.85" y="352.30" width="3.9" height="1.7" fill="#000"/>
<text transform="translate(0.81 378.50) rotate(0.03) scale(1.1228 1)" font-family="Liberation Sans, sans-serif" font-weight="bold" font-size="9.50" fill="#000" stroke="#000" stroke-width="0.15">RA</text>
<text transform="translate(17.66 378.50) rotate(0.03) scale(0.9406 1)" font-family="Liberation Sans, sans-serif" font-weight="bold" font-size="9.50" fill="#000" stroke="#000" stroke-width="0.15">1</text>
<text transform="translate(25.82 378.50) rotate(0.03) scale(1.2851 1)" font-family="Liberation Serif, serif" font-weight="normal" font-size="10.50" fill="#000">μ</text>
<text transform="translate(32.94 378.50) rotate(0.03) scale(1.1274 1)" font-family="Liberation Sans, sans-serif" font-weight="bold" font-size="11.70" fill="#000" stroke="#000" stroke-width="0.15">mol/L</text>
<text transform="translate(96.91 378.50) rotate(0.03) scale(1.0350 1)" font-family="Liberation Sans, sans-serif" font-weight="bold" font-size="10.00" fill="#000" stroke="#000" stroke-width="0.15">4.6</text>
<rect x="137.35" y="374.80" width="3.9" height="1.7" fill="#000"/>
<rect x="168.85" y="374.80" width="3.9" height="1.7" fill="#000"/>
<rect x="202.35" y="374.80" width="3.9" height="1.7" fill="#000"/>
<rect x="234.35" y="374.80" width="3.9" height="1.7" fill="#000"/>
<rect x="272.35" y="374.80" width="3.9" height="1.7" fill="#000"/>
<rect x="304.35" y="374.80" width="3.9" height="1.7" fill="#000"/>
<rect x="335.35" y="374.80" width="3.9" height="1.7" fill="#000"/>
<rect x="369.85" y="374.80" width="3.9" height="1.7" fill="#000"/>
<text transform="translate(394.68 378.50) rotate(0.03) scale(1.0350 1)" font-family="Liberation Sans, sans-serif" font-weight="bold" font-size="10.00" fill="#000" stroke="#000" stroke-width="0.15">1.3</text>
</g>
<g id="panelB">
<g transform="translate(89.50 0) skewY(-0.100) translate(-89.50 0)">
<path d="M96.10 607.65V607.19M94.35 607.19H97.85" stroke="#1a1a1a" stroke-width="0.95" fill="none"/>
<rect x="92.90" y="607.45" width="6.70" height="16.65" fill="#000"/>
<path d="M102.33 601.46V600.46M100.58 600.46H104.08" stroke="#1a1a1a" stroke-width="0.95" fill="none"/>
<clipPath id="cB_0_1"><rect x="99.25" y="601.46" width="6.15" height="22.64"/></clipPath>
<rect x="99.25" y="601.46" width="6.15" height="22.64" fill="#fff"/>
<path d="M98.25 595.41L106.40 603.56M98.25 599.09L106.40 607.24M98.25 602.77L106.40 610.92M98.25 606.45L106.40 614.60M98.25 610.13L106.40 618.28M98.25 613.81L106.40 621.96M98.25 617.49L106.40 625.64M98.25 621.17L106.40 629.32" stroke="#000" stroke-width="1.0" fill="none" clip-path="url(#cB_0_1)"/>
<rect x="99.25" y="601.46" width="6.15" height="22.64" fill="none" stroke="#000" stroke-width="1"/>
<path d="M109.15 596.50V584.26M107.40 584.26H110.90" stroke="#1a1a1a" stroke-width="0.95" fill="none"/>
<rect x="105.40" y="596.50" width="7.50" height="27.60" fill="#fff" stroke="#000" stroke-width="1.1"/>
<path d="M105.40 600.01H112.90M105.40 603.52H112.90M105.40 607.03H112.90M105.40 610.54H112.90M105.40 614.05H112.90M105.40 617.56H112.90M105.40 621.07H112.90" stroke="#000" stroke-width="1.2" fill="none"/>
<path d="M128.88 582.34V573.09M127.12 573.09H130.62" stroke="#1a1a1a" stroke-width="0.95" fill="none"/>
<rect x="125.68" y="582.14" width="6.70" height="41.96" fill="#000"/>
<path d="M135.10 580.05V568.21M133.35 568.21H136.85" stroke="#1a1a1a" stroke-width="0.95" fill="none"/>
<clipPath id="cB_1_1"><rect x="132.03" y="580.05" width="6.15" height="44.05"/></clipPath>
<rect x="132.03" y="580.05" width="6.15" height="44.05" fill="#fff"/>
<path d="M131.03 574.00L139.18 582.15M131.03 577.68L139.18 585.83M131.03 581.36L139.18 589.51M131.03 585.04L139.18 593.19M131.03 588.72L139.18 596.87M131.03 592.40L139.18 600.55M131.03 596.08L139.18 604.23M131.03 599.76L139.18 607.91M131.03 603.44L139.18 611.59M131.03 607.12L139.18 615.27M131.03 610.80L139.18 618.95M131.03 614.48L139.18 622.63M131.03 618.16L139.18 626.31M131.03 621.84L139.18 629.99" stroke="#000" stroke-width="1.0" fill="none" clip-path="url(#cB_1_1)"/>
<rect x="132.03" y="580.05" width="6.15" height="44.05" fill="none" stroke="#000" stroke-width="1"/>
<path d="M141.93 573.86V560.47M140.18 560.47H143.68" stroke="#1a1a1a" stroke-width="0.95" fill="none"/>
<rect x="138.18" y="573.86" width="7.50" height="50.24" fill="#fff" stroke="#000" stroke-width="1.1"/>
<path d="M138.18 577.37H145.68M138.18 580.88H145.68M138.18 584.39H145.68M138.18 587.90H145.68M138.18 591.41H145.68M138.18 594.92H145.68M138.18 598.43H145.68M138.18 601.94H145.68M138.18 605.45H145.68M138.18 608.96H145.68M138.18 612.47H145.68M138.18 615.98H145.68M138.18 619.49H145.68" stroke="#000" stroke-width="1.2" fill="none"/>
<path d="M161.65 614.53V610.06M159.90 610.06H163.40" stroke="#1a1a1a" stroke-width="0.95" fill="none"/>
<rect x="158.45" y="614.33" width="6.70" height="9.77" fill="#000"/>
<path d="M167.88 470.20V432.65M166.12 432.65H169.62" stroke="#1a1a1a" stroke-width="0.95" fill="none"/>
<clipPath id="cB_2_1"><rect x="164.80" y="470.20" width="6.15" height="153.90"/></clipPath>
<rect x="164.80" y="470.20" width="6.15" height="153.90" fill="#fff"/>
<path d="M163.80 464.15L171.95 472.30M163.80 467.83L171.95 475.98M163.80 471.51L171.95 479.66M163.80 475.19L171.95 483.34M163.80 478.87L171.95 487.02M163.80 482.55L171.95 490.70M163.80 486.23L171.95 494.38M163.80 489.91L171.95 498.06M163.80 493.59L171.95 501.74M163.80 497.27L171.95 505.42M163.80 500.95L171.95 509.10M163.80 504.63L171.95 512.78M163.80 508.31L171.95 516.46M163.80 511.99L171.95 520.14M163.80 515.67L171.95 523.82M163.80 519.35L171.95 527.50M163.80 523.03L171.95 531.18M163.80 526.71L171.95 534.86M163.80 530.39L171.95 538.54M163.80 534.07L171.95 542.22M163.80 537.75L171.95 545.90M163.80 541.43L171.95 549.58M163.80 545.11L171.95 553.26M163.80 548.79L171.95 556.94M163.80 552.47L171.95 560.62M163.80 556.15L171.95 564.30M163.80 559.83L171.95 567.98M163.80 563.51L171.95 571.66M163.80 567.19L171.95 575.34M163.80 570.87L171.95 579.02M163.80 574.55L171.95 582.70M163.80 578.23L171.95 586.38M163.80 581.91L171.95 590.06M163.80 585.59L171.95 593.74M163.80 589.27L171.95 597.42M163.80 592.95L171.95 601.10M163.80 596.63L171.95 604.78M163.80 600.31L171.95 608.46M163.80 603.99L171.95 612.14M163.80 607.67L171.95 615.82M163.80 611.35L171.95 619.50M163.80 615.03L171.95 623.18M163.80 618.71L171.95 626.86M163.80 622.39L171.95 630.54" stroke="#000" stroke-width="1.0" fill="none" clip-path="url(#cB_2_1)"/>
<rect x="164.80" y="470.20" width="6.15" height="153.90" fill="none" stroke="#000" stroke-width="1"/>
<path d="M174.70 437.52V413.74M172.95 413.74H176.45" stroke="#1a1a1a" stroke-width="0.95" fill="none"/>
<rect x="170.95" y="437.52" width="7.50" height="186.58" fill="#fff" stroke="#000" stroke-width="1.1"/>
<path d="M170.95 441.03H178.45M170.95 444.54H178.45M170.95 448.05H178.45M170.95 451.56H178.45M170.95 455.07H178.45M170.95 458.58H178.45M170.95 462.09H178.45M170.95 465.60H178.45M170.95 469.11H178.45M170.95 472.62H178.45M170.95 476.13H178.45M170.95 479.64H178.45M170.95 483.15H178.45M170.95 486.66H178.45M170.95 490.17H178.45M170.95 493.68H178.45M170.95 497.19H178.45M170.95 500.70H178.45M170.95 504.21H178.45M170.95 507.72H178.45M170.95 511.23H178.45M170.95 514.74H178.45M170.95 518.25H178.45M170.95 521.76H178.45M170.95 525.27H178.45M170.95 528.78H178.45M170.95 532.29H178.45M170.95 535.80H178.45M170.95 539.31H178.45M170.95 542.82H178.45M170.95 546.33H178.45M170.95 549.84H178.45M170.95 553.35H178.45M170.95 556.86H178.45M170.95 560.37H178.45M170.95 563.88H178.45M170.95 567.39H178.45M170.95 570.90H178.45M170.95 574.41H178.45M170.95 577.92H178.45M170.95 581.43H178.45M170.95 584.94H178.45M170.95 588.45H178.45M170.95 591.96H178.45M170.95 595.47H178.45M170.95 598.98H178.45M170.95 602.49H178.45M170.95 606.00H178.45M170.95 609.51H178.45M170.95 613.02H178.45M170.95 616.53H178.45M170.95 620.04H178.45" stroke="#000" stroke-width="1.2" fill="none"/>
<path d="M194.42 613.93V608.62M192.67 608.62H196.17" stroke="#1a1a1a" stroke-width="0.95" fill="none"/>
<rect x="191.22" y="613.73" width="6.70" height="10.37" fill="#000"/>
<path d="M200.65 591.14V589.99M198.90 589.99H202.40" stroke="#1a1a1a" stroke-width="0.95" fill="none"/>
<clipPath id="cB_3_1"><rect x="197.57" y="591.14" width="6.15" height="32.96"/></clipPath>
<rect x="197.57" y="591.14" width="6.15" height="32.96" fill="#fff"/>
<path d="M196.57 585.10L204.72 593.25M196.57 588.78L204.72 596.93M196.57 592.46L204.72 600.61M196.57 596.13L204.72 604.28M196.57 599.81L204.72 607.96M196.57 603.49L204.72 611.64M196.57 607.17L204.72 615.32M196.57 610.85L204.72 619.00M196.57 614.53L204.72 622.68M196.57 618.21L204.72 626.36M196.57 621.89L204.72 630.04" stroke="#000" stroke-width="1.0" fill="none" clip-path="url(#cB_3_1)"/>
<rect x="197.57" y="591.14" width="6.15" height="32.96" fill="none" stroke="#000" stroke-width="1"/>
<path d="M207.47 463.60V435.52M205.72 435.52H209.22" stroke="#1a1a1a" stroke-width="0.95" fill="none"/>
<rect x="203.72" y="463.60" width="7.50" height="160.50" fill="#fff" stroke="#000" stroke-width="1.1"/>
<path d="M203.72 467.11H211.22M203.72 470.62H211.22M203.72 474.13H211.22M203.72 477.64H211.22M203.72 481.15H211.22M203.72 484.66H211.22M203.72 488.17H211.22M203.72 491.68H211.22M203.72 495.19H211.22M203.72 498.70H211.22M203.72 502.21H211.22M203.72 505.72H211.22M203.72 509.23H211.22M203.72 512.74H211.22M203.72 516.25H211.22M203.72 519.76H211.22M203.72 523.27H211.22M203.72 526.78H211.22M203.72 530.29H211.22M203.72 533.80H211.22M203.72 537.31H211.22M203.72 540.82H211.22M203.72 544.33H211.22M203.72 547.84H211.22M203.72 551.35H211.22M203.72 554.86H211.22M203.72 558.37H211.22M203.72 561.88H211.22M203.72 565.39H211.22M203.72 568.90H211.22M203.72 572.41H211.22M203.72 575.92H211.22M203.72 579.43H211.22M203.72 582.94H211.22M203.72 586.45H211.22M203.72 589.96H211.22M203.72 593.47H211.22M203.72 596.98H211.22M203.72 600.49H211.22M203.72 604.00H211.22M203.72 607.51H211.22M203.72 611.02H211.22M203.72 614.53H211.22M203.72 618.04H211.22M203.72 621.55H211.22" stroke="#000" stroke-width="1.2" fill="none"/>
<path d="M227.20 613.04V611.20M225.45 611.20H228.95" stroke="#1a1a1a" stroke-width="0.95" fill="none"/>
<rect x="224.00" y="612.84" width="6.70" height="11.26" fill="#000"/>
<path d="M233.42 611.03V609.20M231.67 609.20H235.17" stroke="#1a1a1a" stroke-width="0.95" fill="none"/>
<clipPath id="cB_4_1"><rect x="230.35" y="611.03" width="6.15" height="13.07"/></clipPath>
<rect x="230.35" y="611.03" width="6.15" height="13.07" fill="#fff"/>
<path d="M229.35 604.99L237.50 613.14M229.35 608.67L237.50 616.82M229.35 612.35L237.50 620.50M229.35 616.03L237.50 624.18M229.35 619.71L237.50 627.86" stroke="#000" stroke-width="1.0" fill="none" clip-path="url(#cB_4_1)"/>
<rect x="230.35" y="611.03" width="6.15" height="13.07" fill="none" stroke="#000" stroke-width="1"/>
<path d="M240.25 542.99V536.40M238.50 536.40H242.00" stroke="#1a1a1a" stroke-width="0.95" fill="none"/>
<rect x="236.50" y="542.99" width="7.50" height="81.11" fill="#fff" stroke="#000" stroke-width="1.1"/>
<path d="M236.50 546.50H244.00M236.50 550.01H244.00M236.50 553.52H244.00M236.50 557.03H244.00M236.50 560.54H244.00M236.50 564.05H244.00M236.50 567.56H244.00M236.50 571.07H244.00M236.50 574.58H244.00M236.50 578.09H244.00M236.50 581.60H244.00M236.50 585.11H244.00M236.50 588.62H244.00M236.50 592.13H244.00M236.50 595.64H244.00M236.50 599.15H244.00M236.50 602.66H244.00M236.50 606.17H244.00M236.50 609.68H244.00M236.50 613.19H244.00M236.50 616.70H244.00M236.50 620.21H244.00" stroke="#000" stroke-width="1.2" fill="none"/>
<path d="M259.97 613.04V610.34M258.22 610.34H261.72" stroke="#1a1a1a" stroke-width="0.95" fill="none"/>
<rect x="256.77" y="612.84" width="6.70" height="11.26" fill="#000"/>
<path d="M266.20 485.96V472.20M264.45 472.20H267.95" stroke="#1a1a1a" stroke-width="0.95" fill="none"/>
<clipPath id="cB_5_1"><rect x="263.12" y="485.96" width="6.15" height="138.14"/></clipPath>
<rect x="263.12" y="485.96" width="6.15" height="138.14" fill="#fff"/>
<path d="M262.12 479.91L270.27 488.06M262.12 483.59L270.27 491.74M262.12 487.27L270.27 495.42M262.12 490.95L270.27 499.10M262.12 494.63L270.27 502.78M262.12 498.31L270.27 506.46M262.12 501.99L270.27 510.14M262.12 505.67L270.27 513.82M262.12 509.35L270.27 517.50M262.12 513.03L270.27 521.18M262.12 516.71L270.27 524.86M262.12 520.39L270.27 528.54M262.12 524.07L270.27 532.22M262.12 527.75L270.27 535.90M262.12 531.43L270.27 539.58M262.12 535.11L270.27 543.26M262.12 538.79L270.27 546.94M262.12 542.47L270.27 550.62M262.12 546.15L270.27 554.30M262.12 549.83L270.27 557.98M262.12 553.51L270.27 561.66M262.12 557.19L270.27 565.34M262.12 560.87L270.27 569.02M262.12 564.55L270.27 572.70M262.12 568.23L270.27 576.38M262.12 571.91L270.27 580.06M262.12 575.59L270.27 583.74M262.12 579.27L270.27 587.42M262.12 582.95L270.27 591.10M262.12 586.63L270.27 594.78M262.12 590.31L270.27 598.46M262.12 593.99L270.27 602.14M262.12 597.67L270.27 605.82M262.12 601.35L270.27 609.50M262.12 605.03L270.27 613.18M262.12 608.71L270.27 616.86M262.12 612.39L270.27 620.54M262.12 616.07L270.27 624.22M262.12 619.75L270.27 627.90" stroke="#000" stroke-width="1.0" fill="none" clip-path="url(#cB_5_1)"/>
<rect x="263.12" y="485.96" width="6.15" height="138.14" fill="none" stroke="#000" stroke-width="1"/>
<path d="M273.02 448.99V426.92M271.27 426.92H274.77" stroke="#1a1a1a" stroke-width="0.95" fill="none"/>
<rect x="269.27" y="448.99" width="7.50" height="175.11" fill="#fff" stroke="#000" stroke-width="1.1"/>
<path d="M269.27 452.50H276.77M269.27 456.01H276.77M269.27 459.52H276.77M269.27 463.03H276.77M269.27 466.54H276.77M269.27 470.05H276.77M269.27 473.56H276.77M269.27 477.07H276.77M269.27 480.58H276.77M269.27 484.09H276.77M269.27 487.60H276.77M269.27 491.11H276.77M269.27 494.62H276.77M269.27 498.13H276.77M269.27 501.64H276.77M269.27 505.15H276.77M269.27 508.66H276.77M269.27 512.17H276.77M269.27 515.68H276.77M269.27 519.19H276.77M269.27 522.70H276.77M269.27 526.21H276.77M269.27 529.72H276.77M269.27 533.23H276.77M269.27 536.74H276.77M269.27 540.25H276.77M269.27 543.76H276.77M269.27 547.27H276.77M269.27 550.78H276.77M269.27 554.29H276.77M269.27 557.80H276.77M269.27 561.31H276.77M269.27 564.82H276.77M269.27 568.33H276.77M269.27 571.84H276.77M269.27 575.35H276.77M269.27 578.86H276.77M269.27 582.37H276.77M269.27 585.88H276.77M269.27 589.39H276.77M269.27 592.90H276.77M269.27 596.41H276.77M269.27 599.92H276.77M269.27 603.43H276.77M269.27 606.94H276.77M269.27 610.45H276.77M269.27 613.96H276.77M269.27 617.47H276.77M269.27 620.98H276.77" stroke="#000" stroke-width="1.2" fill="none"/>
<path d="M292.75 617.65V616.65M291.00 616.65H294.50" stroke="#1a1a1a" stroke-width="0.95" fill="none"/>
<rect x="289.55" y="617.45" width="6.70" height="6.65" fill="#000"/>
<path d="M298.97 515.48V495.70M297.22 495.70H300.72" stroke="#1a1a1a" stroke-width="0.95" fill="none"/>
<clipPath id="cB_6_1"><rect x="295.90" y="515.48" width="6.15" height="108.62"/></clipPath>
<rect x="295.90" y="515.48" width="6.15" height="108.62" fill="#fff"/>
<path d="M294.90 509.43L303.05 517.58M294.90 513.11L303.05 521.26M294.90 516.79L303.05 524.94M294.90 520.47L303.05 528.62M294.90 524.15L303.05 532.30M294.90 527.83L303.05 535.98M294.90 531.51L303.05 539.66M294.90 535.19L303.05 543.34M294.90 538.87L303.05 547.02M294.90 542.55L303.05 550.70M294.90 546.23L303.05 554.38M294.90 549.91L303.05 558.06M294.90 553.59L303.05 561.74M294.90 557.27L303.05 565.42M294.90 560.95L303.05 569.10M294.90 564.63L303.05 572.78M294.90 568.31L303.05 576.46M294.90 571.99L303.05 580.14M294.90 575.67L303.05 583.82M294.90 579.35L303.05 587.50M294.90 583.03L303.05 591.18M294.90 586.71L303.05 594.86M294.90 590.39L303.05 598.54M294.90 594.07L303.05 602.22M294.90 597.75L303.05 605.90M294.90 601.43L303.05 609.58M294.90 605.11L303.05 613.26M294.90 608.79L303.05 616.94M294.90 612.47L303.05 620.62M294.90 616.15L303.05 624.30M294.90 619.83L303.05 627.98" stroke="#000" stroke-width="1.0" fill="none" clip-path="url(#cB_6_1)"/>
<rect x="295.90" y="515.48" width="6.15" height="108.62" fill="none" stroke="#000" stroke-width="1"/>
<path d="M305.80 479.65V475.93M304.05 475.93H307.55" stroke="#1a1a1a" stroke-width="0.95" fill="none"/>
<rect x="302.05" y="479.65" width="7.50" height="144.45" fill="#fff" stroke="#000" stroke-width="1.1"/>
<path d="M302.05 483.16H309.55M302.05 486.67H309.55M302.05 490.18H309.55M302.05 493.69H309.55M302.05 497.20H309.55M302.05 500.71H309.55M302.05 504.22H309.55M302.05 507.73H309.55M302.05 511.24H309.55M302.05 514.75H309.55M302.05 518.26H309.55M302.05 521.77H309.55M302.05 525.28H309.55M302.05 528.79H309.55M302.05 532.30H309.55M302.05 535.81H309.55M302.05 539.32H309.55M302.05 542.83H309.55M302.05 546.34H309.55M302.05 549.85H309.55M302.05 553.36H309.55M302.05 556.87H309.55M302.05 560.38H309.55M302.05 563.89H309.55M302.05 567.40H309.55M302.05 570.91H309.55M302.05 574.42H309.55M302.05 577.93H309.55M302.05 581.44H309.55M302.05 584.95H309.55M302.05 588.46H309.55M302.05 591.97H309.55M302.05 595.48H309.55M302.05 598.99H309.55M302.05 602.50H309.55M302.05 606.01H309.55M302.05 609.52H309.55M302.05 613.03H309.55M302.05 616.54H309.55M302.05 620.05H309.55" stroke="#000" stroke-width="1.2" fill="none"/>
<rect x="322.32" y="620.32" width="6.70" height="3.78" fill="#000"/>
<path d="M331.75 493.70V466.47M330.00 466.47H333.50" stroke="#1a1a1a" stroke-width="0.95" fill="none"/>
<clipPath id="cB_7_1"><rect x="328.67" y="493.70" width="6.15" height="130.40"/></clipPath>
<rect x="328.67" y="493.70" width="6.15" height="130.40" fill="#fff"/>
<path d="M327.67 487.65L335.82 495.80M327.67 491.33L335.82 499.48M327.67 495.01L335.82 503.16M327.67 498.69L335.82 506.84M327.67 502.37L335.82 510.52M327.67 506.05L335.82 514.20M327.67 509.73L335.82 517.88M327.67 513.41L335.82 521.56M327.67 517.09L335.82 525.24M327.67 520.77L335.82 528.92M327.67 524.45L335.82 532.60M327.67 528.13L335.82 536.28M327.67 531.81L335.82 539.96M327.67 535.49L335.82 543.64M327.67 539.17L335.82 547.32M327.67 542.85L335.82 551.00M327.67 546.53L335.82 554.68M327.67 550.21L335.82 558.36M327.67 553.89L335.82 562.04M327.67 557.57L335.82 565.72M327.67 561.25L335.82 569.40M327.67 564.93L335.82 573.08M327.67 568.61L335.82 576.76M327.67 572.29L335.82 580.44M327.67 575.97L335.82 584.12M327.67 579.65L335.82 587.80M327.67 583.33L335.82 591.48M327.67 587.01L335.82 595.16M327.67 590.69L335.82 598.84M327.67 594.37L335.82 602.52M327.67 598.05L335.82 606.20M327.67 601.73L335.82 609.88M327.67 605.41L335.82 613.56M327.67 609.09L335.82 617.24M327.67 612.77L335.82 620.92M327.67 616.45L335.82 624.60M327.67 620.13L335.82 628.28" stroke="#000" stroke-width="1.0" fill="none" clip-path="url(#cB_7_1)"/>
<rect x="328.67" y="493.70" width="6.15" height="130.40" fill="none" stroke="#000" stroke-width="1"/>
<path d="M338.57 463.60V449.85M336.82 449.85H340.32" stroke="#1a1a1a" stroke-width="0.95" fill="none"/>
<rect x="334.82" y="463.60" width="7.50" height="160.50" fill="#fff" stroke="#000" stroke-width="1.1"/>
<path d="M334.82 467.11H342.32M334.82 470.62H342.32M334.82 474.13H342.32M334.82 477.64H342.32M334.82 481.15H342.32M334.82 484.66H342.32M334.82 488.17H342.32M334.82 491.68H342.32M334.82 495.19H342.32M334.82 498.70H342.32M334.82 502.21H342.32M334.82 505.72H342.32M334.82 509.23H342.32M334.82 512.74H342.32M334.82 516.25H342.32M334.82 519.76H342.32M334.82 523.27H342.32M334.82 526.78H342.32M334.82 530.29H342.32M334.82 533.80H342.32M334.82 537.31H342.32M334.82 540.82H342.32M334.82 544.33H342.32M334.82 547.84H342.32M334.82 551.35H342.32M334.82 554.86H342.32M334.82 558.37H342.32M334.82 561.88H342.32M334.82 565.39H342.32M334.82 568.90H342.32M334.82 572.41H342.32M334.82 575.92H342.32M334.82 579.43H342.32M334.82 582.94H342.32M334.82 586.45H342.32M334.82 589.96H342.32M334.82 593.47H342.32M334.82 596.98H342.32M334.82 600.49H342.32M334.82 604.00H342.32M334.82 607.51H342.32M334.82 611.02H342.32M334.82 614.53H342.32M334.82 618.04H342.32M334.82 621.55H342.32" stroke="#000" stroke-width="1.2" fill="none"/>
<rect x="355.10" y="618.88" width="6.70" height="5.22" fill="#000"/>
<path d="M364.52 526.94V520.92M362.77 520.92H366.27" stroke="#1a1a1a" stroke-width="0.95" fill="none"/>
<clipPath id="cB_8_1"><rect x="361.45" y="526.94" width="6.15" height="97.16"/></clipPath>
<rect x="361.45" y="526.94" width="6.15" height="97.16" fill="#fff"/>
<path d="M360.45 520.90L368.60 529.05M360.45 524.58L368.60 532.73M360.45 528.26L368.60 536.41M360.45 531.94L368.60 540.09M360.45 535.62L368.60 543.77M360.45 539.30L368.60 547.45M360.45 542.98L368.60 551.13M360.45 546.66L368.60 554.81M360.45 550.34L368.60 558.49M360.45 554.02L368.60 562.17M360.45 557.70L368.60 565.85M360.45 561.38L368.60 569.53M360.45 565.06L368.60 573.21M360.45 568.74L368.60 576.89M360.45 572.42L368.60 580.57M360.45 576.10L368.60 584.25M360.45 579.78L368.60 587.93M360.45 583.46L368.60 591.61M360.45 587.14L368.60 595.29M360.45 590.82L368.60 598.97M360.45 594.50L368.60 602.65M360.45 598.18L368.60 606.33M360.45 601.86L368.60 610.01M360.45 605.54L368.60 613.69M360.45 609.22L368.60 617.37M360.45 612.90L368.60 621.05M360.45 616.58L368.60 624.73M360.45 620.26L368.60 628.41" stroke="#000" stroke-width="1.0" fill="none" clip-path="url(#cB_8_1)"/>
<rect x="361.45" y="526.94" width="6.15" height="97.16" fill="none" stroke="#000" stroke-width="1"/>
<path d="M371.35 510.89V495.70M369.60 495.70H373.10" stroke="#1a1a1a" stroke-width="0.95" fill="none"/>
<rect x="367.60" y="510.89" width="7.50" height="113.21" fill="#fff" stroke="#000" stroke-width="1.1"/>
<path d="M367.60 514.40H375.10M367.60 517.91H375.10M367.60 521.42H375.10M367.60 524.93H375.10M367.60 528.44H375.10M367.60 531.95H375.10M367.60 535.46H375.10M367.60 538.97H375.10M367.60 542.48H375.10M367.60 545.99H375.10M367.60 549.50H375.10M367.60 553.01H375.10M367.60 556.52H375.10M367.60 560.03H375.10M367.60 563.54H375.10M367.60 567.05H375.10M367.60 570.56H375.10M367.60 574.07H375.10M367.60 577.58H375.10M367.60 581.09H375.10M367.60 584.60H375.10M367.60 588.11H375.10M367.60 591.62H375.10M367.60 595.13H375.10M367.60 598.64H375.10M367.60 602.15H375.10M367.60 605.66H375.10M367.60 609.17H375.10M367.60 612.68H375.10M367.60 616.19H375.10M367.60 619.70H375.10" stroke="#000" stroke-width="1.2" fill="none"/>
<path d="M391.07 619.08V617.65M389.32 617.65H392.82" stroke="#1a1a1a" stroke-width="0.95" fill="none"/>
<rect x="387.87" y="618.88" width="6.70" height="5.22" fill="#000"/>
<path d="M410.93 617.62V615.50M409.18 615.50H412.68" stroke="#1a1a1a" stroke-width="0.95" fill="none"/>
<clipPath id="cB_9_3"><rect x="407.57" y="617.62" width="6.70" height="6.48"/></clipPath>
<rect x="407.57" y="617.62" width="6.70" height="6.48" fill="#fff"/>
<path d="M406.57 619.73L415.27 611.03M406.57 623.41L415.27 614.71M406.57 627.09L415.27 618.39M406.57 630.77L415.27 622.07" stroke="#000" stroke-width="1.0" fill="none" clip-path="url(#cB_9_3)"/>
<rect x="407.57" y="617.62" width="6.70" height="6.48" fill="none" stroke="#000" stroke-width="1"/>
<path d="M89.50 627.70V409.00H417.25V627.70" stroke="#2a2a2a" stroke-width="1.05" fill="none"/>
<path d="M89.00 624.10H417.75" stroke="#000" stroke-width="1.3" fill="none"/>
<path d="M122.28 624.10v3.60M155.05 624.10v3.60M187.82 624.10v3.60M220.60 624.10v3.60M253.38 624.10v3.60M286.15 624.10v3.60M318.92 624.10v3.60M351.70 624.10v3.60M384.47 624.10v3.60" stroke="#1a1a1a" stroke-width="1" fill="none"/>
<path d="M89.50 624.10h-4.50M89.50 618.37h-2.61M89.50 612.64h-2.61M89.50 606.90h-2.61M89.50 601.17h-2.61M89.50 595.44h-4.50M89.50 589.71h-2.61M89.50 583.98h-2.61M89.50 578.24h-2.61M89.50 572.51h-2.61M89.50 566.78h-4.50M89.50 561.05h-2.61M89.50 555.32h-2.61M89.50 549.58h-2.61M89.50 543.85h-2.61M89.50 538.12h-4.50M89.50 532.39h-2.61M89.50 526.66h-2.61M89.50 520.92h-2.61M89.50 515.19h-2.61M89.50 509.46h-4.50M89.50 503.73h-2.61M89.50 498.00h-2.61M89.50 492.26h-2.61M89.50 486.53h-2.61M89.50 480.80h-4.50M89.50 475.07h-2.61M89.50 469.34h-2.61M89.50 463.60h-2.61M89.50 457.87h-2.61M89.50 452.14h-4.50M89.50 446.41h-2.61M89.50 440.68h-2.61M89.50 434.94h-2.61M89.50 429.21h-2.61M89.50 423.48h-4.50M89.50 417.75h-2.61M89.50 412.02h-2.61" stroke="#1a1a1a" stroke-width="1" fill="none"/>
</g>
<text transform="translate(78.03 627.15) rotate(0.03) scale(1.0000 1)" font-family="Liberation Sans, sans-serif" font-weight="normal" font-size="8.60" fill="#0a0a0a" stroke="#0a0a0a" stroke-width="0.30">0</text>
<text transform="translate(58.89 598.49) rotate(0.03) scale(1.0000 1)" font-family="Liberation Sans, sans-serif" font-weight="normal" font-size="8.60" fill="#0a0a0a" stroke="#0a0a0a" stroke-width="0.30">10000</text>
<text transform="translate(58.89 569.83) rotate(0.03) scale(1.0000 1)" font-family="Liberation Sans, sans-serif" font-weight="normal" font-size="8.60" fill="#0a0a0a" stroke="#0a0a0a" stroke-width="0.30">20000</text>
<text transform="translate(58.89 541.17) rotate(0.03) scale(1.0000 1)" font-family="Liberation Sans, sans-serif" font-weight="normal" font-size="8.60" fill="#0a0a0a" stroke="#0a0a0a" stroke-width="0.30">30000</text>
<text transform="translate(58.89 512.51) rotate(0.03) scale(1.0000 1)" font-family="Liberation Sans, sans-serif" font-weight="normal" font-size="8.60" fill="#0a0a0a" stroke="#0a0a0a" stroke-width="0.30">40000</text>
<text transform="translate(58.89 483.85) rotate(0.03) scale(1.0000 1)" font-family="Liberation Sans, sans-serif" font-weight="normal" font-size="8.60" fill="#0a0a0a" stroke="#0a0a0a" stroke-width="0.30">50000</text>
<text transform="translate(58.89 455.19) rotate(0.03) scale(1.0000 1)" font-family="Liberation Sans, sans-serif" font-weight="normal" font-size="8.60" fill="#0a0a0a" stroke="#0a0a0a" stroke-width="0.30">60000</text>
<text transform="translate(58.89 426.53) rotate(0.03) scale(1.0000 1)" font-family="Liberation Sans, sans-serif" font-weight="normal" font-size="8.60" fill="#0a0a0a" stroke="#0a0a0a" stroke-width="0.30">70000</text>
<text transform="translate(35.60 580.40) rotate(-90.03) scale(0.9657 1)" font-family="Liberation Sans, sans-serif" font-weight="normal" font-size="10.40" fill="#0a0a0a" stroke="#0a0a0a" stroke-width="0.30">RELATIVE CAT ACTIVITY</text>
<text transform="translate(111.09 652.99) rotate(-90.03) scale(0.9450 1)" font-family="Liberation Sans, sans-serif" font-weight="normal" font-size="9.00" fill="#0a0a0a" stroke="#0a0a0a" stroke-width="0.30">pSG5</text>
<text transform="translate(143.86 655.03) rotate(-90.03) scale(0.9450 1)" font-family="Liberation Sans, sans-serif" font-weight="normal" font-size="9.00" fill="#0a0a0a" stroke="#0a0a0a" stroke-width="0.30">pCMX</text>
<text transform="translate(176.64 681.14) rotate(-90.03) scale(0.9450 1)" font-family="Liberation Sans, sans-serif" font-weight="normal" font-size="9.00" fill="#0a0a0a" stroke="#0a0a0a" stroke-width="0.30">PML/RAR (s)</text>
<text transform="translate(209.41 658.14) rotate(-90.03) scale(0.9450 1)" font-family="Liberation Sans, sans-serif" font-weight="normal" font-size="9.00" fill="#0a0a0a" stroke="#0a0a0a" stroke-width="0.30">R272Q</text>
<text transform="translate(242.19 656.14) rotate(-90.03) scale(0.9450 1)" font-family="Liberation Sans, sans-serif" font-weight="normal" font-size="9.00" fill="#0a0a0a" stroke="#0a0a0a" stroke-width="0.30">L290V</text>
<text transform="translate(274.96 657.33) rotate(-90.03) scale(0.9450 1)" font-family="Liberation Sans, sans-serif" font-weight="normal" font-size="9.00" fill="#0a0a0a" stroke="#0a0a0a" stroke-width="0.30">M297L</text>
<text transform="translate(307.74 659.92) rotate(-90.03) scale(0.9450 1)" font-family="Liberation Sans, sans-serif" font-weight="normal" font-size="9.00" fill="#0a0a0a" stroke="#0a0a0a" stroke-width="0.30">R394W</text>
<text transform="translate(340.51 681.65) rotate(-90.03) scale(0.9450 1)" font-family="Liberation Sans, sans-serif" font-weight="normal" font-size="9.00" fill="#0a0a0a" stroke="#0a0a0a" stroke-width="0.30">PML/RAR (L)</text>
<text transform="translate(373.29 657.88) rotate(-90.03) scale(0.9450 1)" font-family="Liberation Sans, sans-serif" font-weight="normal" font-size="9.00" fill="#0a0a0a" stroke="#0a0a0a" stroke-width="0.30">M413T</text>
<text transform="translate(406.06 688.71) rotate(-90.03) scale(0.9450 1)" font-family="Liberation Sans, sans-serif" font-weight="normal" font-size="9.00" fill="#0a0a0a" stroke="#0a0a0a" stroke-width="0.30">PML/RAR (m4)</text>
<text transform="translate(-0.71 425.50) rotate(0.03) scale(0.9902 1)" font-family="Liberation Sans, sans-serif" font-weight="bold" font-size="25.00" fill="#000" stroke="#000" stroke-width="0.15">B</text>
<rect x="436.80" y="424.30" width="12.10" height="11.40" fill="#000"/>
<text transform="translate(454.25 432.00) rotate(0.03) scale(0.9872 1)" font-family="Liberation Sans, sans-serif" font-weight="normal" font-size="9.20" fill="#0a0a0a" stroke="#0a0a0a" stroke-width="0.30">Control</text>
<clipPath id="lcB1"><rect x="437.10" y="459.20" width="11.50" height="11.50"/></clipPath>
<path d="M437.10 447.70L448.60 459.20M437.10 451.10L448.60 462.60M437.10 454.50L448.60 466.00M437.10 457.90L448.60 469.40M437.10 461.30L448.60 472.80M437.10 464.70L448.60 476.20M437.10 468.10L448.60 479.60M437.10 471.50L448.60 483.00" stroke="#000" stroke-width="1.15" fill="none" clip-path="url(#lcB1)"/>
<rect x="437.10" y="459.20" width="11.50" height="11.50" fill="none" stroke="#000" stroke-width="1"/>
<text transform="translate(453.53 467.80) rotate(0.03) scale(0.9491 1)" font-family="Liberation Sans, sans-serif" font-weight="normal" font-size="8.80" fill="#0a0a0a" stroke="#0a0a0a" stroke-width="0.30">RA</text>
<text transform="translate(467.36 467.80) rotate(0.03) scale(0.9531 1)" font-family="Liberation Sans, sans-serif" font-weight="normal" font-size="8.80" fill="#0a0a0a" stroke="#0a0a0a" stroke-width="0.30">0.01</text>
<text transform="translate(486.16 467.80) rotate(0.03) scale(1.2429 1)" font-family="Liberation Serif, serif" font-weight="normal" font-size="9.50" fill="#0a0a0a">μ</text>
<text transform="translate(492.03 467.80) rotate(0.03) scale(0.9949 1)" font-family="Liberation Sans, sans-serif" font-weight="bold" font-size="8.80" fill="#0a0a0a" stroke="#0a0a0a" stroke-width="0.15">mol/L</text>
<clipPath id="lcB2"><rect x="437.10" y="494.00" width="11.50" height="11.50"/></clipPath>
<path d="M437.10 497.83H448.60M437.10 501.67H448.60" stroke="#000" stroke-width="1.20" fill="none" clip-path="url(#lcB2)"/>
<rect x="437.10" y="494.00" width="11.50" height="11.50" fill="none" stroke="#000" stroke-width="1"/>
<text transform="translate(453.53 503.20) rotate(0.03) scale(0.9491 1)" font-family="Liberation Sans, sans-serif" font-weight="normal" font-size="8.80" fill="#0a0a0a" stroke="#0a0a0a" stroke-width="0.30">RA</text>
<text transform="translate(467.37 503.20) rotate(0.03) scale(0.9317 1)" font-family="Liberation Sans, sans-serif" font-weight="normal" font-size="8.80" fill="#0a0a0a" stroke="#0a0a0a" stroke-width="0.30">0.1</text>
<text transform="translate(481.47 503.20) rotate(0.03) scale(1.2175 1)" font-family="Liberation Serif, serif" font-weight="normal" font-size="9.50" fill="#0a0a0a">μ</text>
<text transform="translate(487.43 503.20) rotate(0.03) scale(0.9904 1)" font-family="Liberation Sans, sans-serif" font-weight="bold" font-size="8.80" fill="#0a0a0a" stroke="#0a0a0a" stroke-width="0.15">mol/L</text>
<clipPath id="lcB3"><rect x="437.10" y="523.50" width="11.50" height="11.50"/></clipPath>
<path d="M437.10 523.50L448.60 512.00M437.10 526.90L448.60 515.40M437.10 530.30L448.60 518.80M437.10 533.70L448.60 522.20M437.10 537.10L448.60 525.60M437.10 540.50L448.60 529.00M437.10 543.90L448.60 532.40M437.10 547.30L448.60 535.80" stroke="#000" stroke-width="1.15" fill="none" clip-path="url(#lcB3)"/>
<rect x="437.10" y="523.50" width="11.50" height="11.50" fill="none" stroke="#000" stroke-width="1"/>
<text transform="translate(453.53 532.60) rotate(0.03) scale(0.9491 1)" font-family="Liberation Sans, sans-serif" font-weight="normal" font-size="8.80" fill="#0a0a0a" stroke="#0a0a0a" stroke-width="0.30">RA</text>
<text transform="translate(467.79 532.60) rotate(0.03) scale(0.6270 1)" font-family="Liberation Sans, sans-serif" font-weight="normal" font-size="8.80" fill="#0a0a0a" stroke="#0a0a0a" stroke-width="0.30">1</text>
<text transform="translate(474.07 532.60) rotate(0.03) scale(1.2175 1)" font-family="Liberation Serif, serif" font-weight="normal" font-size="9.50" fill="#0a0a0a">μ</text>
<text transform="translate(479.93 532.60) rotate(0.03) scale(0.9949 1)" font-family="Liberation Sans, sans-serif" font-weight="bold" font-size="8.80" fill="#0a0a0a" stroke="#0a0a0a" stroke-width="0.15">mol/L</text>
<text transform="translate(0.45 705.60) rotate(0.03) scale(1.0159 1)" font-family="Liberation Sans, sans-serif" font-weight="bold" font-size="12.80" fill="#000" stroke="#000" stroke-width="0.15">Fold Induction</text>
<path d="M95.80 702.50H422.60" stroke="#000" stroke-width="1.60"/>
<text transform="translate(0.34 732.70) rotate(0.03) scale(1.0682 1)" font-family="Liberation Sans, sans-serif" font-weight="bold" font-size="9.50" fill="#000" stroke="#000" stroke-width="0.15">RA</text>
<text transform="translate(16.90 732.70) rotate(0.03) scale(1.0470 1)" font-family="Liberation Sans, sans-serif" font-weight="bold" font-size="9.50" fill="#000" stroke="#000" stroke-width="0.15">0.01</text>
<text transform="translate(39.60 732.70) rotate(0.03) scale(1.3081 1)" font-family="Liberation Serif, serif" font-weight="normal" font-size="10.50" fill="#000">μ</text>
<text transform="translate(46.76 732.70) rotate(0.03) scale(1.1108 1)" font-family="Liberation Sans, sans-serif" font-weight="bold" font-size="11.70" fill="#000" stroke="#000" stroke-width="0.15">mol/L</text>
<text transform="translate(102.22 732.70) rotate(0.03) scale(1.0350 1)" font-family="Liberation Sans, sans-serif" font-weight="bold" font-size="10.00" fill="#000" stroke="#000" stroke-width="0.15">1.4</text>
<text transform="translate(136.83 732.70) rotate(0.03) scale(1.0350 1)" font-family="Liberation Sans, sans-serif" font-weight="bold" font-size="10.00" fill="#000" stroke="#000" stroke-width="0.15">1.1</text>
<text transform="translate(166.58 732.70) rotate(0.03) scale(1.0350 1)" font-family="Liberation Sans, sans-serif" font-weight="bold" font-size="10.00" fill="#000" stroke="#000" stroke-width="0.15">15.8</text>
<text transform="translate(200.88 732.70) rotate(0.03) scale(1.0350 1)" font-family="Liberation Sans, sans-serif" font-weight="bold" font-size="10.00" fill="#000" stroke="#000" stroke-width="0.15">3.2</text>
<text transform="translate(233.30 732.70) rotate(0.03) scale(1.0350 1)" font-family="Liberation Sans, sans-serif" font-weight="bold" font-size="10.00" fill="#000" stroke="#000" stroke-width="0.15">1.2</text>
<text transform="translate(262.63 732.70) rotate(0.03) scale(1.0350 1)" font-family="Liberation Sans, sans-serif" font-weight="bold" font-size="10.00" fill="#000" stroke="#000" stroke-width="0.15">12.7</text>
<text transform="translate(296.08 732.70) rotate(0.03) scale(1.0350 1)" font-family="Liberation Sans, sans-serif" font-weight="bold" font-size="10.00" fill="#000" stroke="#000" stroke-width="0.15">21.1</text>
<text transform="translate(330.29 732.70) rotate(0.03) scale(1.0350 1)" font-family="Liberation Sans, sans-serif" font-weight="bold" font-size="10.00" fill="#000" stroke="#000" stroke-width="0.15">48.1</text>
<text transform="translate(363.26 732.70) rotate(0.03) scale(1.0350 1)" font-family="Liberation Sans, sans-serif" font-weight="bold" font-size="10.00" fill="#000" stroke="#000" stroke-width="0.15">22.2</text>
<rect x="407.65" y="729.00" width="3.9" height="1.7" fill="#000"/>
<text transform="translate(0.34 756.00) rotate(0.03) scale(1.0682 1)" font-family="Liberation Sans, sans-serif" font-weight="bold" font-size="9.50" fill="#000" stroke="#000" stroke-width="0.15">RA</text>
<text transform="translate(16.89 756.00) rotate(0.03) scale(1.0725 1)" font-family="Liberation Sans, sans-serif" font-weight="bold" font-size="9.50" fill="#000" stroke="#000" stroke-width="0.15">0.1</text>
<text transform="translate(34.44 756.00) rotate(0.03) scale(1.2622 1)" font-family="Liberation Serif, serif" font-weight="normal" font-size="10.50" fill="#000">μ</text>
<text transform="translate(41.15 756.00) rotate(0.03) scale(1.1174 1)" font-family="Liberation Sans, sans-serif" font-weight="bold" font-size="11.70" fill="#000" stroke="#000" stroke-width="0.15">mol/L</text>
<text transform="translate(102.35 756.00) rotate(0.03) scale(1.0350 1)" font-family="Liberation Sans, sans-serif" font-weight="bold" font-size="10.00" fill="#000" stroke="#000" stroke-width="0.15">1.8</text>
<text transform="translate(136.90 756.00) rotate(0.03) scale(1.0350 1)" font-family="Liberation Sans, sans-serif" font-weight="bold" font-size="10.00" fill="#000" stroke="#000" stroke-width="0.15">1.2</text>
<text transform="translate(166.55 756.00) rotate(0.03) scale(1.0350 1)" font-family="Liberation Sans, sans-serif" font-weight="bold" font-size="10.00" fill="#000" stroke="#000" stroke-width="0.15">19.1</text>
<text transform="translate(197.78 756.00) rotate(0.03) scale(1.0350 1)" font-family="Liberation Sans, sans-serif" font-weight="bold" font-size="10.00" fill="#000" stroke="#000" stroke-width="0.15">15.8</text>
<text transform="translate(233.33 756.00) rotate(0.03) scale(1.0350 1)" font-family="Liberation Sans, sans-serif" font-weight="bold" font-size="10.00" fill="#000" stroke="#000" stroke-width="0.15">7.5</text>
<text transform="translate(262.63 756.00) rotate(0.03) scale(1.0350 1)" font-family="Liberation Sans, sans-serif" font-weight="bold" font-size="10.00" fill="#000" stroke="#000" stroke-width="0.15">16.0</text>
<text transform="translate(296.16 756.00) rotate(0.03) scale(1.0350 1)" font-family="Liberation Sans, sans-serif" font-weight="bold" font-size="10.00" fill="#000" stroke="#000" stroke-width="0.15">28.2</text>
<text transform="translate(330.21 756.00) rotate(0.03) scale(1.0350 1)" font-family="Liberation Sans, sans-serif" font-weight="bold" font-size="10.00" fill="#000" stroke="#000" stroke-width="0.15">59.1</text>
<text transform="translate(363.26 756.00) rotate(0.03) scale(1.0350 1)" font-family="Liberation Sans, sans-serif" font-weight="bold" font-size="10.00" fill="#000" stroke="#000" stroke-width="0.15">26.0</text>
<rect x="407.65" y="752.30" width="3.9" height="1.7" fill="#000"/>
<text transform="translate(0.34 779.70) rotate(0.03) scale(1.0682 1)" font-family="Liberation Sans, sans-serif" font-weight="bold" font-size="9.50" fill="#000" stroke="#000" stroke-width="0.15">RA</text>
<text transform="translate(16.98 779.70) rotate(0.03) scale(0.9183 1)" font-family="Liberation Sans, sans-serif" font-weight="bold" font-size="9.50" fill="#000" stroke="#000" stroke-width="0.15">1</text>
<text transform="translate(24.90 779.70) rotate(0.03) scale(1.3081 1)" font-family="Liberation Serif, serif" font-weight="normal" font-size="10.50" fill="#000">μ</text>
<text transform="translate(32.04 779.70) rotate(0.03) scale(1.1247 1)" font-family="Liberation Sans, sans-serif" font-weight="bold" font-size="11.70" fill="#000" stroke="#000" stroke-width="0.15">molL</text>
<rect x="108.55" y="776.00" width="3.9" height="1.7" fill="#000"/>
<rect x="143.05" y="776.00" width="3.9" height="1.7" fill="#000"/>
<rect x="175.65" y="776.00" width="3.9" height="1.7" fill="#000"/>
<rect x="206.85" y="776.00" width="3.9" height="1.7" fill="#000"/>
<rect x="239.45" y="776.00" width="3.9" height="1.7" fill="#000"/>
<rect x="271.65" y="776.00" width="3.9" height="1.7" fill="#000"/>
<rect x="305.05" y="776.00" width="3.9" height="1.7" fill="#000"/>
<rect x="339.15" y="776.00" width="3.9" height="1.7" fill="#000"/>
<rect x="372.15" y="776.00" width="3.9" height="1.7" fill="#000"/>
<text transform="translate(401.48 779.70) rotate(0.03) scale(1.0350 1)" font-family="Liberation Sans, sans-serif" font-weight="bold" font-size="10.00" fill="#000" stroke="#000" stroke-width="0.15">1.3</text>
</g>
</svg>
</body></html>
